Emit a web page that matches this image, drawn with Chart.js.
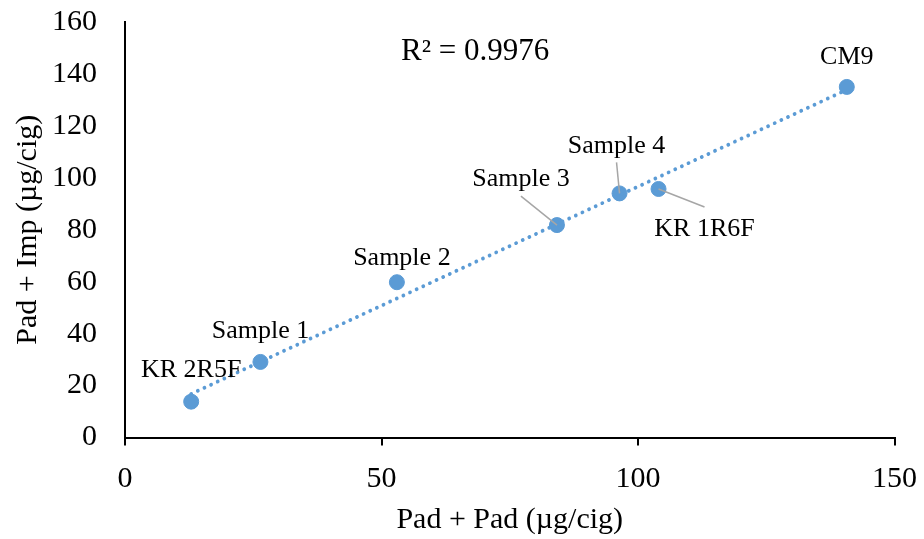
<!DOCTYPE html>
<html>
<head>
<meta charset="utf-8">
<script src="https://cdn.jsdelivr.net/npm/chart.js@4"></script>
<style>
  html, body { margin: 0; padding: 0; background: #fff; }
  canvas { display: block; }
</style>
</head>
<body>
<canvas id="grafico" width="924" height="539"></canvas>
<script>
const etiquetas = ['KR 2R5F', 'Sample 1', 'Sample 2', 'Sample 3', 'Sample 4', 'KR 1R6F', 'CM9'];
const padPad = [12.9, 26.4, 53.0, 84.2, 96.4, 104.0, 140.7];
const padImp = [13.8, 29.1, 59.8, 81.8, 94.0, 95.7, 135.0];
const textoR2 = 'R² = 0.9976';

// posición de cada etiqueta respecto a su punto (px), y si lleva línea guía
const desplazamientos = [
  { dx: 0, dy: -33, guia: false },
  { dx: 0, dy: -33, guia: false },
  { dx: 5, dy: -26, guia: false },
  { dx: -36, dy: -48, guia: true, desde: 19 },
  { dx: -3, dy: -49, guia: true, desde: 18 },
  { dx: 46, dy: 38, guia: true, desde: -20 },
  { dx: 0, dy: -32, guia: false }
];

const fuente = "'Liberation Serif', 'Times New Roman', serif";
const azul = '#5B9BD5';

const puntos = padPad.map((x, i) => ({ x: x, y: padImp[i] }));

// recta de mínimos cuadrados
const n = padPad.length;
const mx = padPad.reduce((a, b) => a + b, 0) / n;
const my = padImp.reduce((a, b) => a + b, 0) / n;
let sxy = 0, sxx = 0;
for (let i = 0; i < n; i++) {
  sxy += (padPad[i] - mx) * (padImp[i] - my);
  sxx += (padPad[i] - mx) * (padPad[i] - mx);
}
const pendiente = sxy / sxx;
const ordenada = my - pendiente * mx;
const xMin = Math.min(...padPad), xMax = Math.max(...padPad);
const tendencia = [
  { x: xMin, y: ordenada + pendiente * xMin },
  { x: xMax, y: ordenada + pendiente * xMax }
];

const etiquetasPlugin = {
  id: 'etiquetasPlugin',
  afterDatasetsDraw(chart) {
    const ctx = chart.ctx;
    const meta = chart.getDatasetMeta(1);
    ctx.save();
    ctx.font = '26px ' + fuente;
    ctx.fillStyle = '#000';
    ctx.textAlign = 'center';
    ctx.textBaseline = 'alphabetic';
    meta.data.forEach((el, i) => {
      const d = desplazamientos[i];
      const cx = el.x + d.dx, cy = el.y + d.dy;
      if (d.guia) {
        ctx.strokeStyle = '#A6A6A6';
        ctx.lineWidth = 1.5;
        ctx.beginPath();
        ctx.moveTo(cx, cy + d.desde);
        ctx.lineTo(el.x, el.y);
        ctx.stroke();
      }
      ctx.fillText(etiquetas[i], cx, cy + 8.6);
    });
    ctx.font = '31px ' + fuente;
    ctx.textAlign = 'left';
    ctx.fillText(textoR2, 401, 60);
    ctx.restore();
  }
};

new Chart(document.getElementById('grafico').getContext('2d'), {
  type: 'scatter',
  data: {
    datasets: [
      {
        type: 'line',
        data: tendencia,
        borderColor: azul,
        borderWidth: 3.8,
        borderDash: [0.01, 7.3],
        borderCapStyle: 'round',
        pointRadius: 0,
        fill: false
      },
      {
        data: puntos,
        backgroundColor: azul,
        borderColor: azul,
        pointRadius: 7.5,
        pointHoverRadius: 7.5
      }
    ]
  },
  options: {
    responsive: false,
    animation: false,
    events: [],
    layout: { padding: { top: 22, right: 29.5, bottom: 0, left: 10 } },
    plugins: {
      legend: { display: false },
      tooltip: { enabled: false }
    },
    scales: {
      x: {
        type: 'linear',
        min: 0,
        max: 150,
        afterFit(scale) {
          scale.height = 101.5;
          scale.paddingLeft = 0;
          scale.paddingRight = 0;
        },
        ticks: { stepSize: 50, padding: 16, color: '#000', font: { family: fuente, size: 30 } },
        grid: { drawOnChartArea: false, drawTicks: true, tickLength: 8, color: '#000', lineWidth: 2 },
        border: { display: true, color: '#000', width: 2 },
        title: {
          display: true,
          text: 'Pad + Pad (µg/cig)',
          color: '#000',
          font: { family: fuente, size: 30 },
          padding: { top: 7, bottom: 1 }
        }
      },
      y: {
        type: 'linear',
        min: 0,
        max: 160,
        afterFit(scale) {
          scale.width = 115;
          scale.paddingTop = 0;
          scale.paddingBottom = 0;
        },
        ticks: { stepSize: 20, padding: 28, color: '#000', font: { family: fuente, size: 30 } },
        grid: { drawOnChartArea: false, drawTicks: false },
        border: { display: true, color: '#000', width: 2 },
        title: {
          display: true,
          text: 'Pad + Imp (µg/cig)',
          color: '#000',
          font: { family: fuente, size: 30 },
          padding: { top: 0, bottom: 6 }
        }
      }
    }
  },
  plugins: [etiquetasPlugin]
});
</script>
</body>
</html>
